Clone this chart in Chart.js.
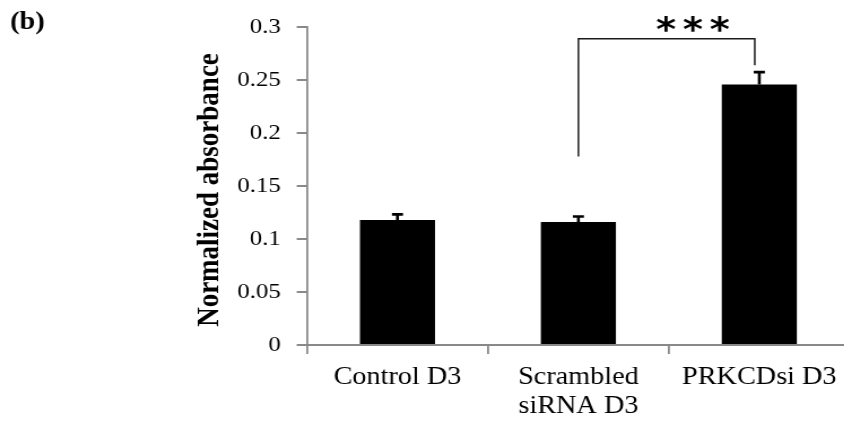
<!DOCTYPE html>
<html>
<head>
<meta charset="utf-8">
<script src="https://cdn.jsdelivr.net/npm/chart.js@4"></script>
<style>
  html, body { margin: 0; padding: 0; background: #fff; overflow: hidden; }
  /* the original figure is stretched sideways a little */
  #wrap { width: 752px; height: 423px; transform: scaleX(1.13); transform-origin: 0 0; }
</style>
</head>
<body>
<div id="wrap"><canvas id="chart" width="752" height="423"></canvas></div>
<script>
const categories = [['Control D3'], ['Scrambled', 'siRNA D3'], ['PRKCDsi D3']];
const absorbance = [0.118, 0.116, 0.246];
const errors = [0.0053, 0.0053, 0.0116];
const yTicks = [0, 0.05, 0.1, 0.15, 0.2, 0.25, 0.3];
const yTickLabels = ['0', '0.05', '0.1', '0.15', '0.2', '0.25', '0.3'];

// significance bracket Scrambled vs PRKCDsi (category index, value)
const bracketX = [1, 1.975];
const bracketY = [0.178, 0.289, 0.264];
const starsText = '***';
const starsAt = [1.633, 0.287];

const panelLabel = '(b)';
const yTitle = 'Normalized absorbance';

const axisColor = '#898989';
const serif = 'Liberation Serif';

const extras = {
    id: 'extras',
    afterDatasetsDraw(chart) {
        const ctx = chart.ctx;
        const x = chart.scales.x;
        const y = chart.scales.y;
        const meta = chart.getDatasetMeta(0);

        ctx.save();
        // error bars
        ctx.strokeStyle = '#000';
        ctx.lineWidth = 2.6;
        meta.data.forEach((bar, i) => {
            const top = y.getPixelForValue(absorbance[i] + errors[i]);
            ctx.beginPath();
            ctx.moveTo(bar.x, bar.y);
            ctx.lineTo(bar.x, top);
            ctx.moveTo(bar.x - 4.9, top);
            ctx.lineTo(bar.x + 4.9, top);
            ctx.stroke();
        });

        // bracket
        ctx.strokeStyle = '#1a1a1a';
        ctx.lineWidth = 1.5;
        const x0 = x.getPixelForValue(bracketX[0]);
        const x1 = x.getPixelForValue(bracketX[1]);
        ctx.beginPath();
        ctx.moveTo(x0, y.getPixelForValue(bracketY[0]));
        ctx.lineTo(x0, y.getPixelForValue(bracketY[1]));
        ctx.lineTo(x1, y.getPixelForValue(bracketY[1]));
        ctx.lineTo(x1, y.getPixelForValue(bracketY[2]));
        ctx.stroke();

        // stars, spaced out like the original
        ctx.fillStyle = '#000';
        ctx.font = 'bold 34px "DejaVu Sans"';
        ctx.textAlign = 'center';
        ctx.textBaseline = 'alphabetic';
        ctx.letterSpacing = '6px';
        ctx.fillText(starsText, x.getPixelForValue(starsAt[0]) + 3, y.getPixelForValue(starsAt[1]));
        ctx.restore();
    },
    afterDraw(chart) {
        const ctx = chart.ctx;
        ctx.save();
        ctx.fillStyle = '#000';
        ctx.font = 'bold 25px "' + serif + '"';
        ctx.textAlign = 'left';
        ctx.textBaseline = 'alphabetic';
        ctx.fillText(panelLabel, 9, 29);

        ctx.translate(193, 190);
        ctx.rotate(-Math.PI / 2);
        ctx.font = 'bold 27px "' + serif + '"';
        ctx.textAlign = 'center';
        ctx.fillText(yTitle, 0, 0);
        ctx.restore();
    }
};

new Chart(document.getElementById('chart').getContext('2d'), {
    type: 'bar',
    data: {
        labels: categories,
        datasets: [{
            data: absorbance,
            backgroundColor: '#000',
            borderWidth: 0,
            categoryPercentage: 1,
            barPercentage: 0.415
        }]
    },
    options: {
        responsive: false,
        animation: false,
        layout: { padding: { top: 24, left: 0, right: 0, bottom: 0 } },
        plugins: {
            legend: { display: false },
            tooltip: { enabled: false }
        },
        scales: {
            x: {
                grid: {
                    offset: true,
                    drawOnChartArea: false,
                    drawTicks: true,
                    tickLength: 9,
                    color: axisColor,
                    lineWidth: 1.8
                },
                border: { color: axisColor, width: 2 },
                ticks: {
                    color: '#000',
                    font: { family: serif, size: 25, lineHeight: 1.16 },
                    padding: 9,
                    maxRotation: 0,
                    autoSkip: false
                },
                afterFit: s => { s.height = 78; }
            },
            y: {
                min: 0,
                max: 0.3,
                afterBuildTicks: s => { s.ticks = yTicks.map(v => ({ value: v })); },
                grid: {
                    drawOnChartArea: false,
                    tickLength: 9.1,
                    color: axisColor,
                    lineWidth: 2
                },
                border: { color: axisColor, width: 1.8 },
                ticks: {
                    color: '#000',
                    font: { family: serif, size: 22 },
                    padding: 14,
                    callback: (v, i) => yTickLabels[i]
                },
                afterFit: s => { s.width = 271.7; }
            }
        }
    },
    plugins: [extras]
});
</script>
</body>
</html>
